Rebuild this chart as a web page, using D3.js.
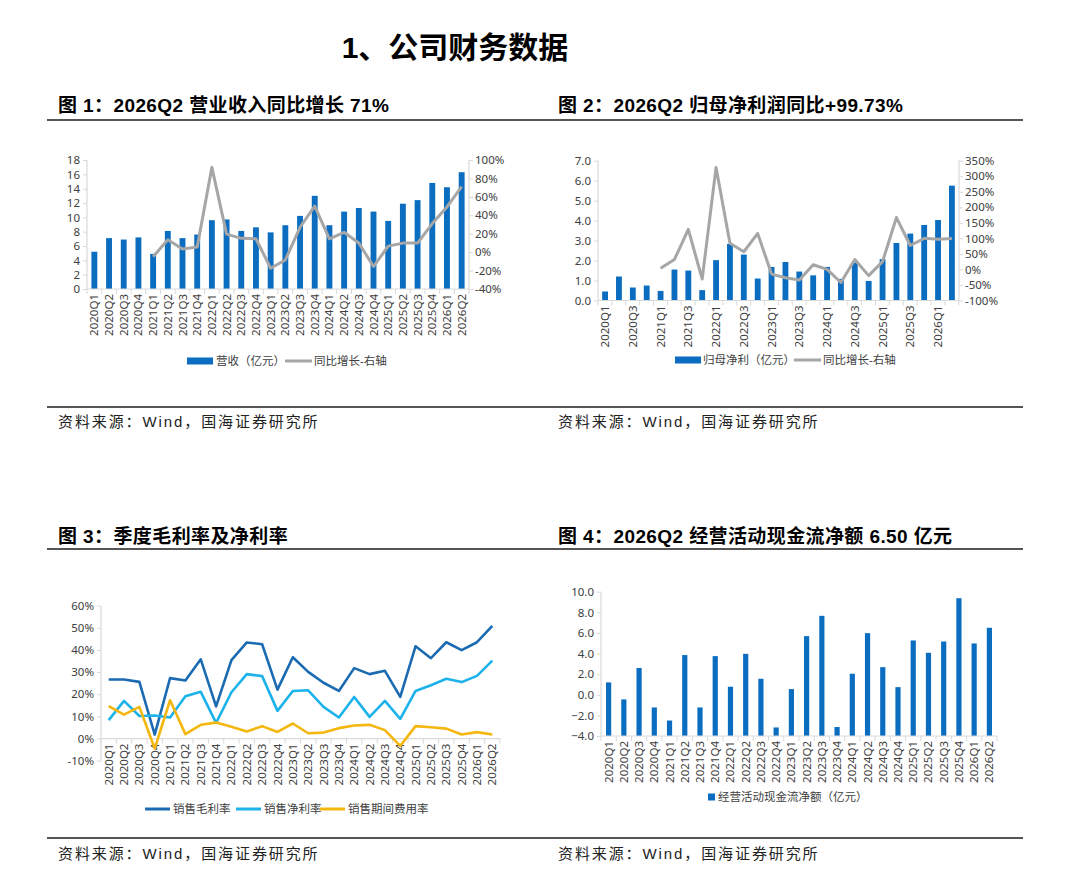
<!DOCTYPE html>
<html>
<head>
<meta charset="utf-8">
<script src="https://cdn.jsdelivr.net/npm/d3@7"></script>
<style>
  body { margin: 0; background: #fff; }
  svg { display: block; }
  .tick text { fill: #404040; }
</style>
</head>
<body>
<svg id="page" width="1080" height="887"></svg>
<script>
// quarters shared by all four panels
const quarters = ["2020Q1","2020Q2","2020Q3","2020Q4","2021Q1","2021Q2","2021Q3","2021Q4",
                  "2022Q1","2022Q2","2022Q3","2022Q4","2023Q1","2023Q2","2023Q3","2023Q4",
                  "2024Q1","2024Q2","2024Q3","2024Q4","2025Q1","2025Q2","2025Q3","2025Q4",
                  "2026Q1","2026Q2"];

// fig 1: revenue (100m yuan) and yoy %
const revenue = [5.2, 7.1, 6.9, 7.2, 4.9, 8.1, 7.1, 7.6, 9.6, 9.7, 8.1, 8.6, 7.9, 8.9, 10.2, 13.0,
                 8.9, 10.8, 11.3, 10.8, 9.5, 11.9, 12.4, 14.8, 14.2, 16.3];
const revenueYoY = [null, null, null, null, -5, 13.5, 3.3, 5.5, 92, 19.5, 15, 14.5, -17.5, -8.5, 27, 50,
                    14.5, 21.5, 10, -15.6, 6.5, 9.8, 9.8, 31, 49, 71];

// fig 2: net profit attributable to parent (100m yuan) and yoy %
const netProfit = [0.45, 1.2, 0.65, 0.75, 0.48, 1.55, 1.5, 0.52, 2.02, 2.83, 2.3, 1.1, 1.68, 1.93, 1.45, 1.26,
                   1.68, 1.08, 1.9, 0.98, 2.07, 2.88, 3.35, 3.78, 4.03, 5.75];
const netProfitYoY = [null, null, null, null, 4, 32, 129, -31, 328, 84, 57, 116, -15, -27, -34, 15,
                      0, -42, 32, -20, 25, 167, 77, 100, 97, 99.73];

// fig 3: margins %
const grossMargin = [26.7, 26.7, 25.6, 1.8, 27.3, 26.2, 35.8, 14.5, 35.4, 43.4, 42.6, 22.1, 36.7, 30.1, 25.2, 21.5,
                     31.8, 29.1, 30.6, 18.8, 41.7, 36.3, 43.5, 39.9, 43.5, 50.9];
const netMargin = [8.3, 17.0, 10.2, 10.4, 9.5, 19.1, 21.1, 7.1, 20.9, 29.1, 28.2, 12.5, 21.5, 21.8, 14.3, 9.5,
                   18.8, 9.8, 17.0, 8.9, 21.5, 24.1, 27.0, 25.5, 28.3, 35.2];
const expenseRate = [14.6, 10.8, 14.3, -4.5, 17.3, 2.0, 6.2, 7.2, 5.3, 3.2, 5.6, 3.0, 6.8, 2.4, 2.7, 4.7,
                     5.9, 6.2, 3.8, -3.3, 5.6, 5.1, 4.5, 1.8, 2.9, 1.8];

// fig 4: operating cash flow (100m yuan)
const operatingCashFlow = [1.2, -0.45, 2.6, -1.23, -2.5, 3.85, -1.23, 3.75, 0.78, 3.97, 1.55, -3.17, 0.55, 5.69, 7.66, -3.13,
                           2.04, 5.98, 2.68, 0.74, 5.27, 4.07, 5.17, 9.37, 4.98, 6.5];

const pageTitle = "1、公司财务数据";
const figTitles = ["图 1：2026Q2 营业收入同比增长 71%", "图 2：2026Q2 归母净利润同比+99.73%",
                   "图 3：季度毛利率及净利率", "图 4：2026Q2 经营活动现金流净额 6.50 亿元"];
const sourceText = "资料来源：Wind，国海证券研究所";

const BLUE = "#0a6dbf", GREY = "#a6a6a6", AXIS = "#d9d9d9";
const DARK = "#1b6bb2", LIGHT = "#1cb2ea", GOLD = "#f4b70f";
const FONT = "'Noto Sans','Noto Sans CJK SC',sans-serif";
const HEAD_FONT = "'Liberation Sans Narrow','Liberation Sans','Noto Sans CJK SC',sans-serif";

var svg = d3.select("#page");

// ---------- page frame: titles, rules, sources ----------
svg.append("text")
   .attr("x", 455).attr("y", 58)
   .attr("text-anchor", "middle")
   .style("font-family", HEAD_FONT).style("font-weight", "bold").style("font-size", "30px")
   .text(pageTitle);

var heads = [[58, 112], [558, 112], [58, 543], [558, 543]];
heads.forEach((h, i) => {
    svg.append("text")
       .attr("x", h[0]).attr("y", h[1])
       .style("font-family", HEAD_FONT).style("font-weight", "bold").style("font-size", "19px")
       .style("letter-spacing", "0.4px")
       .text(figTitles[i]);
});

[120, 407, 549, 838].forEach(y => {
    svg.append("line").attr("x1", 47).attr("x2", 1023).attr("y1", y).attr("y2", y)
       .attr("stroke", "#555").attr("stroke-width", 2);
});

[[58, 427], [558, 427], [58, 859], [558, 859]].forEach(p => {
    svg.append("text")
       .attr("x", p[0]).attr("y", p[1])
       .style("font-family", HEAD_FONT).style("font-size", "15px")
       .style("letter-spacing", "1.9px").attr("fill", "#222")
       .text(sourceText);
});

// ---------- helpers ----------
function styleAxis(g) {
    g.selectAll("text").style("font-family", FONT).style("font-size", "11.5px").attr("fill", "#404040");
    g.select(".domain").remove();
    g.selectAll(".tick line").attr("stroke", AXIS);
}

function xAxis(x, yPos, labelEvery) {
    var g = svg.append("g").attr("transform", `translate(0,${yPos})`)
               .call(d3.axisBottom(x).tickSize(0)
                       .tickFormat((d, i) => i % labelEvery === 0 ? d : ""));
    styleAxis(g);
    g.selectAll("text")
     .attr("transform", "rotate(-90)")
     .attr("text-anchor", "end")
     .attr("x", -5).attr("y", 0).attr("dy", "0.35em");
    var r = x.range();
    svg.append("line").attr("x1", r[0]).attr("x2", r[1]).attr("y1", yPos).attr("y2", yPos)
       .attr("stroke", AXIS).attr("stroke-width", 1.2);
    // ticks between categories
    svg.append("g").selectAll("line")
       .data(quarters.concat(["end"]))
       .join("line")
       .attr("x1", (d, i) => r[0] + i * x.step())
       .attr("x2", (d, i) => r[0] + i * x.step())
       .attr("y1", yPos).attr("y2", yPos + 5)
       .attr("stroke", AXIS);
}

function yAxisLeft(y, xPos, ticks, fmt) {
    var g = svg.append("g").attr("transform", `translate(${xPos},0)`)
               .call(d3.axisLeft(y).tickValues(ticks).tickFormat(fmt).tickSize(4).tickPadding(3));
    styleAxis(g);
    var r = y.range();
    svg.append("line").attr("x1", xPos).attr("x2", xPos).attr("y1", r[0]).attr("y2", r[1])
       .attr("stroke", AXIS).attr("stroke-width", 1.2);
}

function yAxisRight(y, xPos, ticks, fmt) {
    var g = svg.append("g").attr("transform", `translate(${xPos},0)`)
               .call(d3.axisRight(y).tickValues(ticks).tickFormat(fmt).tickSize(4).tickPadding(2));
    styleAxis(g);
    var r = y.range();
    svg.append("line").attr("x1", xPos).attr("x2", xPos).attr("y1", r[0]).attr("y2", r[1])
       .attr("stroke", AXIS).attr("stroke-width", 1.2);
}

function bars(x, y, values, base) {
    svg.append("g").selectAll("rect")
       .data(values)
       .join("rect")
       .attr("x", (d, i) => x(quarters[i]))
       .attr("width", x.bandwidth())
       .attr("y", d => Math.min(y(d), y(base)))
       .attr("height", d => Math.abs(y(base) - y(d)))
       .attr("fill", BLUE);
}

function line(x, y, values, color, width) {
    var gen = d3.line()
                .defined(d => d != null)
                .x((d, i) => x(quarters[i]) + x.bandwidth() / 2)
                .y(d => y(d));
    svg.append("path")
       .datum(values)
       .attr("d", gen)
       .attr("fill", "none")
       .attr("stroke", color)
       .attr("stroke-width", width)
       .attr("stroke-linejoin", "round");
}

function legend(items, yPos) {
    items.forEach(it => {
        if (it.type === "bar") {
            svg.append("rect").attr("x", it.x).attr("y", yPos - 3.5).attr("width", it.w).attr("height", 7)
               .attr("fill", it.color);
        } else if (it.type === "square") {
            svg.append("rect").attr("x", it.x).attr("y", yPos - 3.5).attr("width", 7).attr("height", 7)
               .attr("fill", it.color);
        } else {
            svg.append("line").attr("x1", it.x).attr("x2", it.x + it.w).attr("y1", yPos).attr("y2", yPos)
               .attr("stroke", it.color).attr("stroke-width", 3);
        }
        svg.append("text")
           .attr("x", it.tx).attr("y", yPos).attr("dy", "0.35em")
           .style("font-family", FONT).style("font-size", "11.5px").attr("fill", "#404040")
           .text(it.label);
    });
}

var pct = d => d + "%";

// ---------- fig 1 ----------
var x1 = d3.scaleBand().domain(quarters).range([87, 469]).paddingInner(0.6).paddingOuter(0.3);
var y1 = d3.scaleLinear().domain([0, 18]).range([289, 160]);
var y1r = d3.scaleLinear().domain([-40, 100]).range([289, 160]);
bars(x1, y1, revenue, 0);
line(x1, y1r, revenueYoY, GREY, 3);
yAxisLeft(y1, 87, d3.range(0, 19, 2), d => d);
yAxisRight(y1r, 469, d3.range(-40, 101, 20), pct);
xAxis(x1, 289, 1);
legend([
    {type: "bar", x: 187, w: 26, color: BLUE, tx: 216, label: "营收（亿元）"},
    {type: "line", x: 285, w: 27, color: GREY, tx: 314, label: "同比增长-右轴"}
], 361);

// ---------- fig 2 ----------
var x2 = d3.scaleBand().domain(quarters).range([598, 959]).paddingInner(0.58).paddingOuter(0.3);
var y2 = d3.scaleLinear().domain([0, 7]).range([300.5, 160.7]);
var y2r = d3.scaleLinear().domain([-100, 350]).range([300.5, 160.7]);
bars(x2, y2, netProfit, 0);
line(x2, y2r, netProfitYoY, GREY, 3);
yAxisLeft(y2, 598, d3.range(0, 7.01, 1), d3.format(".1f"));
yAxisRight(y2r, 959, d3.range(-100, 351, 50), pct);
xAxis(x2, 300.5, 2);
legend([
    {type: "bar", x: 675, w: 26, color: BLUE, tx: 703, label: "归母净利（亿元）"},
    {type: "line", x: 794, w: 27, color: GREY, tx: 823, label: "同比增长-右轴"}
], 360);

// ---------- fig 3 ----------
var x3 = d3.scaleBand().domain(quarters).range([101, 500]);
var y3 = d3.scaleLinear().domain([-10, 60]).range([760.7, 605.7]);
yAxisLeft(y3, 101, d3.range(-10, 61, 10), pct);
xAxis(x3, y3(0), 1);
line(x3, y3, grossMargin, DARK, 2.6);
line(x3, y3, netMargin, LIGHT, 2.6);
line(x3, y3, expenseRate, GOLD, 2.6);
legend([
    {type: "line", x: 145, w: 25, color: DARK, tx: 173, label: "销售毛利率"},
    {type: "line", x: 236, w: 25, color: LIGHT, tx: 264, label: "销售净利率"},
    {type: "line", x: 320, w: 25, color: GOLD, tx: 348, label: "销售期间费用率"}
], 809);

// ---------- fig 4 ----------
var x4 = d3.scaleBand().domain(quarters).range([601, 997]).paddingInner(0.66).paddingOuter(0.33);
var y4 = d3.scaleLinear().domain([-4, 10]).range([736, 591.7]);
bars(x4, y4, operatingCashFlow, -4);
yAxisLeft(y4, 601, d3.range(-4, 10.01, 2), d3.format(".1f"));
xAxis(x4, 736, 1);
legend([
    {type: "square", x: 708, color: BLUE, tx: 718, label: "经营活动现金流净额（亿元）"}
], 797);
</script>
</body>
</html>
